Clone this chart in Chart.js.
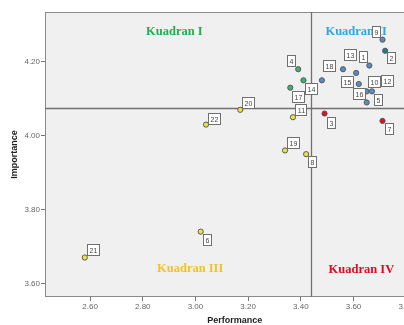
<!DOCTYPE html>
<html>
<head>
<meta charset="utf-8">
<script src="https://cdn.jsdelivr.net/npm/chart.js@4/dist/chart.umd.min.js"></script>
<style>
  html, body { margin: 0; padding: 0; background: #fff; overflow: hidden; width: 404px; height: 325px; }
  #wrap { position: absolute; left: 0; top: 0; width: 428px; height: 325px; }
</style>
</head>
<body>
<div id="wrap"><canvas id="ipa" width="428" height="325"></canvas></div>
<script>
// attribute numbers and their scores
var attributes = ["1","2","3","4","5","6","7","8","9","10","11","12","13","14","15","16","17","18","19","20","21","22"]
var performance = [3.66, 3.72, 3.49, 3.39, 3.65, 3.02, 3.71, 3.42, 3.71, 3.65, 3.37, 3.67, 3.56, 3.41, 3.61, 3.62, 3.36, 3.48, 3.34, 3.17, 2.58, 3.04]
var importance = [4.19, 4.23, 4.06, 4.18, 4.09, 3.74, 4.04, 3.95, 4.26, 4.12, 4.05, 4.12, 4.18, 4.15, 4.17, 4.14, 4.13, 4.15, 3.96, 4.07, 3.67, 4.03]

// averages used as quadrant dividers
var meanPerformance = 3.438
var meanImportance = 4.076

var xTicks = [2.6, 2.8, 3.0, 3.2, 3.4, 3.6, 3.8]
var yTicks = [3.6, 3.8, 4.0, 4.2]

var quadrantNames = ["Kuadran I", "Kuadran II", "Kuadran III", "Kuadran IV"]
var quadrantTextX = [2.92, 3.61, 2.98, 3.63]
var quadrantTextY = [4.281, 4.281, 3.639, 3.636]

// styling
var quadrantText = ["#1fae4e", "#2aa9e0", "#f5c12a", "#e2081f"]
var quadrantFill = ["#3cb371", "#5b8cc0", "#e6e640", "#e0101e"]
// label box offset from its point (px)
var labelShift = [[-6,-9],[6,7],[6,9],[-7,-8],[11,-2],[6,8],[6,8],[6,8],[-7,-8],[7,-9],[8,-7],[15,-10],[7,-14],[8,9],[-9,9],[0,10],[8,9],[7,-14],[8,-7],[8,-7],[8,-7],[8,-6]]

function quadrantOf(i){
    var right = performance[i] >= meanPerformance
    var up = importance[i] >= meanImportance
    if (up && !right) return 0
    if (up && right) return 1
    if (!up && !right) return 2
    return 3
}

var points = []
var fills = []
for (let i = 0; i < attributes.length; i++){
    points.push({x: performance[i], y: importance[i]})
    let c = quadrantFill[quadrantOf(i)]
    if (attributes[i] == "2") c = "#1f7d8c"
    fills.push(c)
}

var ipaPlugin = {
    id: "ipa",
    beforeDatasetsDraw(chart){
        let ctx = chart.ctx
        let a = chart.chartArea
        let xs = chart.scales.x
        let ys = chart.scales.y
        ctx.save()
        ctx.fillStyle = "#f0f0f0"
        ctx.fillRect(a.left, a.top, a.right - a.left, a.bottom - a.top)
        ctx.strokeStyle = "#8a8a8a"
        ctx.lineWidth = 1
        ctx.strokeRect(a.left + 0.5, a.top + 0.5, a.right - a.left, a.bottom - a.top - 1)
        // mean lines
        ctx.strokeStyle = "#707070"
        ctx.lineWidth = 1.3
        let mx = Math.round(xs.getPixelForValue(meanPerformance))
        let my = Math.round(ys.getPixelForValue(meanImportance))
        ctx.beginPath()
        ctx.moveTo(mx + 0.5, a.top); ctx.lineTo(mx + 0.5, a.bottom)
        ctx.moveTo(a.left, my + 0.5); ctx.lineTo(a.right, my + 0.5)
        ctx.stroke()
        // quadrant names
        ctx.font = "bold 12.5px 'Liberation Serif', serif"
        ctx.textAlign = "center"
        ctx.textBaseline = "middle"
        for (let q = 0; q < quadrantNames.length; q++){
            ctx.fillStyle = quadrantText[q]
            ctx.fillText(quadrantNames[q], xs.getPixelForValue(quadrantTextX[q]), ys.getPixelForValue(quadrantTextY[q]))
        }
        ctx.restore()
    },
    afterDatasetsDraw(chart){
        let ctx = chart.ctx
        let meta = chart.getDatasetMeta(0)
        ctx.save()
        ctx.font = "7px 'Liberation Sans', Arial, sans-serif"
        ctx.textAlign = "center"
        ctx.textBaseline = "middle"
        meta.data.forEach((el, i) => {
            let txt = attributes[i]
            let w = Math.max(7, Math.round(ctx.measureText(txt).width) + 4)
            let h = 11
            let cx = Math.round(el.x + labelShift[i][0])
            let cy = Math.round(el.y + labelShift[i][1])
            let l = cx - Math.round(w / 2)
            let t = cy - Math.round(h / 2)
            ctx.fillStyle = "#ffffff"
            ctx.fillRect(l, t, w, h)
            ctx.strokeStyle = "#707070"
            ctx.lineWidth = 1
            ctx.strokeRect(l + 0.5, t + 0.5, w, h)
            ctx.fillStyle = "#444"
            ctx.fillText(txt, cx + 0.5, cy + 1)
        })
        ctx.restore()
    }
}

var tickFont = {family: "'Liberation Sans', Arial, sans-serif", size: 8}

new Chart(document.getElementById("ipa").getContext("2d"), {
    type: "scatter",
    data: {
        datasets: [{
            data: points,
            backgroundColor: fills,
            borderColor: "#5a5a5a",
            borderWidth: 1,
            pointRadius: 2.6,
            pointHoverRadius: 2.6
        }]
    },
    options: {
        responsive: false,
        animation: false,
        events: [],
        layout: {padding: {top: 12, right: 3, left: 0, bottom: 0}},
        plugins: {legend: {display: false}, tooltip: {enabled: false}},
        scales: {
            x: {
                type: "linear",
                min: 2.429,
                max: 3.869,
                afterBuildTicks: (s) => { s.ticks = xTicks.map(v => ({value: v})) },
                afterFit: (s) => { s.height = 28 },
                grid: {drawOnChartArea: false, drawTicks: true, tickLength: 4, color: "#777"},
                border: {display: false},
                ticks: {font: tickFont, color: "#666", padding: 1, maxRotation: 0, callback: (v) => Number(v).toFixed(2)},
                title: {display: true, text: "Performance", color: "#222", font: {family: "'Liberation Sans', Arial, sans-serif", size: 9, weight: "bold", lineHeight: 1}, padding: {top: 0, bottom: 0}}
            },
            y: {
                type: "linear",
                min: 3.563,
                max: 4.335,
                afterBuildTicks: (s) => { s.ticks = yTicks.map(v => ({value: v})) },
                afterFit: (s) => { s.width = 45 },
                grid: {drawOnChartArea: false, drawTicks: true, tickLength: 4, color: "#777"},
                border: {display: false},
                ticks: {font: tickFont, color: "#666", padding: 1, callback: (v) => Number(v).toFixed(2)},
                title: {display: true, text: "Importance", color: "#222", font: {family: "'Liberation Sans', Arial, sans-serif", size: 9, weight: "bold", lineHeight: 1}, padding: {top: 10.5, bottom: 0}}
            }
        }
    },
    plugins: [ipaPlugin]
})
</script>
</body>
</html>
